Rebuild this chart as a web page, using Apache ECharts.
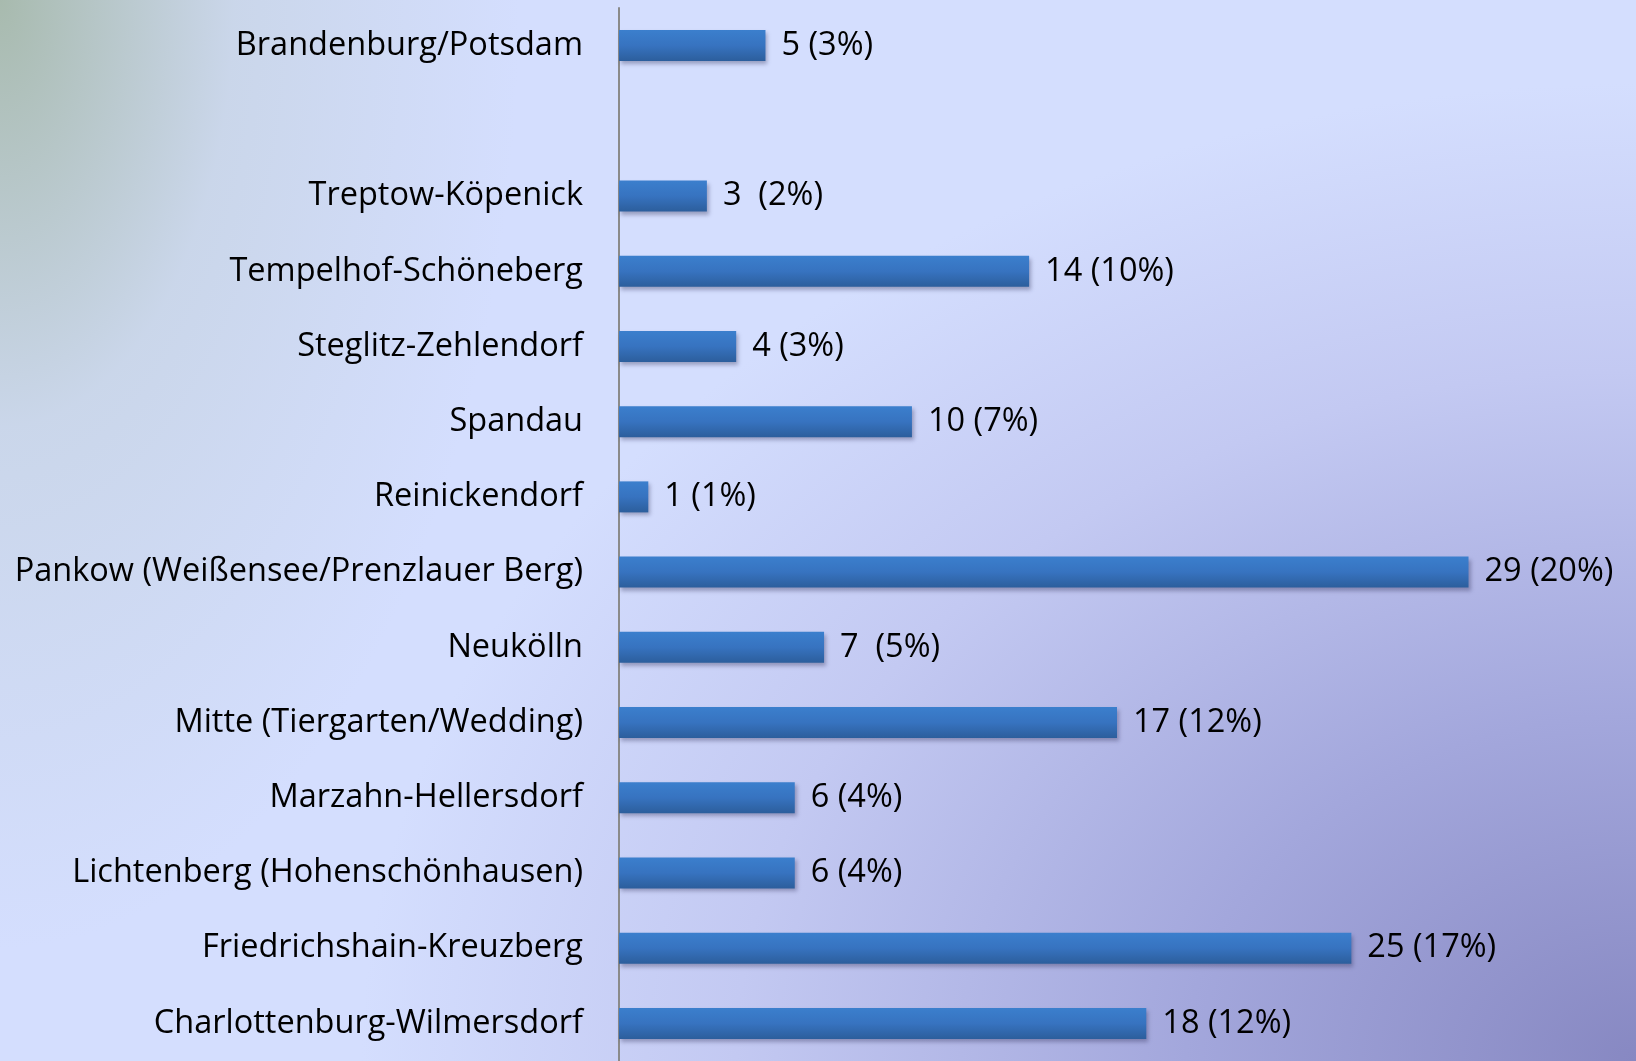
<!DOCTYPE html>
<html>
<head>
<meta charset="utf-8">
<script src="https://cdn.jsdelivr.net/npm/echarts@6/dist/echarts.min.js"></script>
<style type="text/css">
	html,body{margin:0;padding:0;}
	body{
		background:
			radial-gradient(ellipse 520px 950px at 0% 0%, rgba(160,180,160,0.85) 0%, rgba(190,205,210,0.45) 45%, rgba(212,222,254,0) 100%),
			radial-gradient(ellipse 1500px 1150px at 100% 100%, #8788c2 0%, #a3a7dc 30%, #c3c9f2 60%, #d4defe 85%);
		background-color:#d4defe;
	}
	#main{width:1636px;height:1061px;}
</style>
</head>
<body>
	<div id="main"></div>
<script type="text/javascript">
// kategorien von unten nach oben (leerer platz zwischen Treptow und Brandenburg)
var categories = ['Charlottenburg-Wilmersdorf','Friedrichshain-Kreuzberg','Lichtenberg (Hohenschönhausen)',
	'Marzahn-Hellersdorf','Mitte (Tiergarten/Wedding)','Neukölln','Pankow (Weißensee/Prenzlauer Berg)',
	'Reinickendorf','Spandau','Steglitz-Zehlendorf','Tempelhof-Schöneberg','Treptow-Köpenick','','Brandenburg/Potsdam'];
var counts = [18, 25, 6, 6, 17, 7, 29, 1, 10, 4, 14, 3, null, 5];
var labels = ['18 (12%)','25 (17%)','6 (4%)','6 (4%)','17 (12%)','7  (5%)','29 (20%)',
	'1 (1%)','10 (7%)','4 (3%)','14 (10%)','3  (2%)','','5 (3%)'];

var chart = echarts.init(document.getElementById('main'));

var option = {
	backgroundColor: 'transparent',
	animation: false,
	grid: {left: 619, right: 21, top: 8, bottom: 0, containLabel: false},
	xAxis: {
		type: 'value',
		min: 0,
		max: 34,
		show: false
	},
	yAxis: {
		type: 'category',
		data: categories,
		axisLine: {show: true, lineStyle: {color: '#8a8a8a', width: 2}},
		axisTick: {show: false},
		axisLabel: {
			color: '#000',
			fontFamily: 'Open Sans',
			fontSize: 32.5,
			margin: 36,
			padding: [7, 0, 0, 0]
		},
		splitLine: {show: false}
	},
	series: [{
		type: 'bar',
		data: counts,
		barWidth: 31,
		itemStyle: {
			color: new echarts.graphic.LinearGradient(0, 0, 0, 1, [
				{offset: 0, color: '#3b7fcd'},
				{offset: 0.5, color: '#3773c0'},
				{offset: 1, color: '#2c5e9c'}
			]),
			shadowColor: 'rgba(40,40,80,0.35)',
			shadowBlur: 4,
			shadowOffsetX: 2,
			shadowOffsetY: 3
		},
		label: {
			show: true,
			position: 'right',
			distance: 16,
			color: '#000',
			fontFamily: 'Open Sans',
			fontSize: 32.5,
			padding: [7, 0, 0, 0],
			formatter: function (p) { return labels[p.dataIndex]; }
		}
	}]
};

chart.setOption(option);
</script>
</body>
</html>
